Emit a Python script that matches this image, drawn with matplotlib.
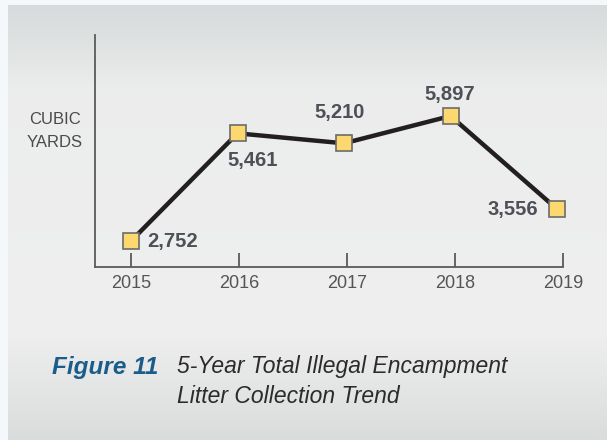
import numpy as np
import matplotlib.pyplot as plt

# Datos del gráfico
years = ["2015", "2016", "2017", "2018", "2019"]
cubic_yards = [2752, 5461, 5210, 5897, 3556]
point_labels = ["2,752", "5,461", "5,210", "5,897", "3,556"]

fonte = ["Liberation Sans", "DejaVu Sans"]
W, H = 607, 440

fig = plt.figure(figsize=(W / 100, H / 100), dpi=100)
fig.patch.set_facecolor("#f4f8fb")

# Painel cinza com degradê suave
bg = fig.add_axes([8 / W, 0, 1 - 8 / W, 1 - 5 / H], zorder=-1)
rows = np.linspace(0, 1, 300)
r = np.interp(rows, [0, 0.2, 0.75, 1], [0.843, 0.925, 0.937, 0.855])
g = np.interp(rows, [0, 0.2, 0.75, 1], [0.857, 0.928, 0.937, 0.862])
grad = np.stack([r, g, g], axis=-1)[:, None, :]
bg.imshow(grad, aspect="auto", extent=[0, 1, 0, 1])
bg.axis("off")

# Eixo principal
ax = fig.add_axes([95 / W, 1 - 267 / H, (563 - 95) / W, (267 - 35) / H])
ax.patch.set_alpha(0)
x = np.arange(len(years))
ax.plot(x, cubic_yards, color="#231f20", lw=3.2, marker="s", ms=11,
        mfc="#fdd86e", mec="#6b6b6b", mew=1.2, zorder=3, clip_on=False)

ax.set_xlim(-0.338, 4.056)
ax.set_ylim(2098, 7935)

# Rótulos dos pontos (deslocamentos em pixels)
offsets = [(16, 0, "left"), (15, -27, "center"), (-4, 31, "center"),
           (-1, 22, "center"), (-19, 0, "right")]
for xi, yi, lab, (dx, dy, ha) in zip(x, cubic_yards, point_labels, offsets):
    ax.annotate(lab, (xi, yi), xytext=(dx, dy), textcoords="offset pixels",
                ha=ha, va="center", fontsize=14.5, fontweight="bold",
                family=fonte, color="#4e5057")

for side in ["top", "right"]:
    ax.spines[side].set_visible(False)
for side in ["left", "bottom"]:
    ax.spines[side].set_color("#5a5a5a")
    ax.spines[side].set_linewidth(1.3)

ax.set_yticks([])
ax.set_xticks(x * 1.014)
ax.set_xticklabels(years, family=fonte, fontsize=13, color="#555555")
ax.tick_params(axis="x", direction="in", length=10, width=1.3,
               color="#5a5a5a", pad=6)

# Título do eixo Y
fig.text(55 / W, 1 - 119 / H, "CUBIC", ha="center", va="center",
         family=fonte, fontsize=12, color="#4a4a4a")
fig.text(55 / W, 1 - 142 / H, "YARDS", ha="center", va="center",
         family=fonte, fontsize=12, color="#4a4a4a")

# Legenda da figura
fig.text(52 / W, 1 - 374 / H, "Figure 11", family=fonte,
         fontsize=17.5, fontweight="bold", fontstyle="italic",
         color="#1a5c8a", va="baseline")
fig.text(177 / W, 1 - 373 / H, "5-Year Total Illegal Encampment",
         family=fonte, fontsize=16.5, fontstyle="italic",
         color="#2b2b2b", va="baseline")
fig.text(177 / W, 1 - 403 / H, "Litter Collection Trend",
         family=fonte, fontsize=16.5, fontstyle="italic",
         color="#2b2b2b", va="baseline")

fig.savefig("out.png", dpi=100, facecolor=fig.get_facecolor())
